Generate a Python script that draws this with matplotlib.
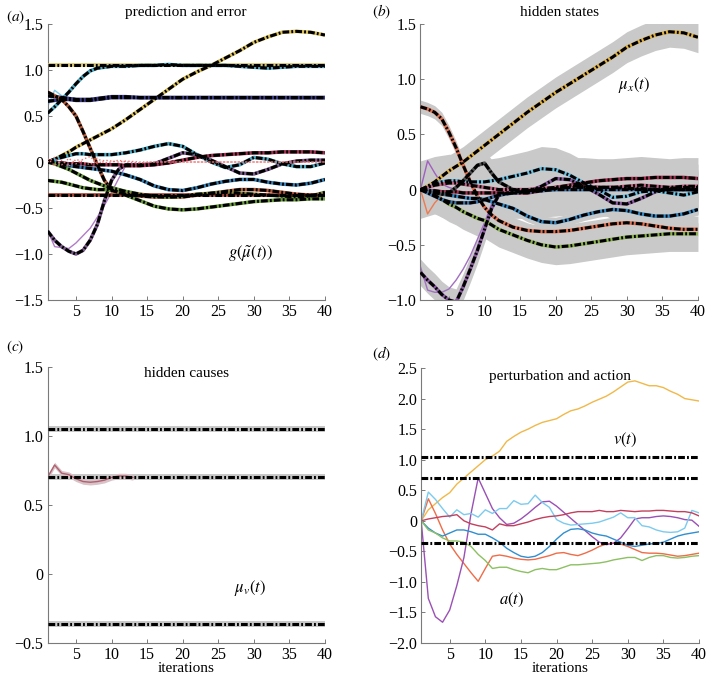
import numpy as np
import matplotlib
matplotlib.use('Agg')
import matplotlib.pyplot as plt
from matplotlib.ticker import FuncFormatter

plt.rcParams['font.family'] = ['Liberation Serif', 'DejaVu Serif']
plt.rcParams['mathtext.fontset'] = 'stix'
plt.rcParams['font.size'] = 9.5

# iteration grids
t_ab = [1, 2, 3, 4, 5, 6, 7, 8, 9, 10, 11, 12, 14, 16, 18, 20, 22, 24, 26, 28, 30, 32, 34, 36, 38, 40]
t_short = [1, 2, 3, 4, 5, 6]
t_d = list(range(1, 41))

# hidden causes (true values)
causes = [1.05, 0.70, -0.36]

# (a) prediction and error
a_rise = [0, 0.03, 0.07, 0.11, 0.16, 0.2, 0.24, 0.28, 0.32, 0.36, 0.41, 0.46, 0.57, 0.68, 0.79, 0.9, 0.98, 1.05, 1.13, 1.21, 1.3, 1.36, 1.41, 1.42, 1.41, 1.38]
a_teal_hi = [0.53, 0.6, 0.68, 0.76, 0.85, 0.93, 0.99, 1.02, 1.03, 1.04, 1.04, 1.04, 1.05, 1.05, 1.06, 1.05, 1.05, 1.05, 1.05, 1.04, 1.03, 1.02, 1.03, 1.04, 1.04, 1.04]
a_navy1 = [0.72, 0.71, 0.7, 0.69, 0.68, 0.68, 0.68, 0.69, 0.7, 0.71, 0.71, 0.71, 0.7, 0.7, 0.7, 0.7, 0.7, 0.7, 0.7, 0.7, 0.7, 0.7, 0.7, 0.7, 0.7, 0.7]
a_navy2 = [0.66, 0.67, 0.68, 0.68, 0.67, 0.67, 0.67, 0.68, 0.69, 0.7, 0.7, 0.7, 0.7, 0.7, 0.7, 0.7, 0.7, 0.7, 0.7, 0.7, 0.7, 0.7, 0.7, 0.7, 0.7, 0.7]
a_cyan_thin = [0.6, 0.78, 0.72, 0.7, 0.69, 0.68]
a_fall = [0.76, 0.72, 0.68, 0.6, 0.5, 0.33, 0.15, -0.03, -0.2, -0.3, -0.33, -0.35, -0.37, -0.38, -0.38, -0.38, -0.36, -0.34, -0.32, -0.3, -0.3, -0.31, -0.33, -0.35, -0.36, -0.36]
a_dip = [-0.75, -0.85, -0.92, -0.97, -1.0, -0.96, -0.85, -0.68, -0.42, -0.2, -0.08, -0.03, -0.03, -0.02, 0.04, 0.1, 0.08, 0.02, -0.05, -0.12, -0.13, -0.08, -0.02, 0.01, 0.02, 0.02]
a_purple_thin = [-0.74, -0.92, -0.93, -0.94, -0.88, -0.8, -0.72, -0.6, -0.47, -0.33, -0.18, -0.04, -0.03, -0.02, 0.04, 0.1, 0.08, 0.02, -0.05, -0.12, -0.13, -0.08, -0.02, 0.01, 0.02, 0.02]
a_teal = [0, 0.03, 0.05, 0.07, 0.09, 0.09, 0.08, 0.08, 0.08, 0.08, 0.09, 0.1, 0.13, 0.17, 0.2, 0.17, 0.08, 0.0, -0.06, -0.03, 0.05, 0.03, -0.02, -0.05, -0.05, -0.01]
a_dred = [0, -0.01, -0.01, -0.02, -0.02, -0.02, -0.03, -0.03, -0.03, -0.03, -0.03, -0.04, -0.04, -0.03, -0.01, 0.02, 0.05, 0.07, 0.08, 0.09, 0.1, 0.1, 0.11, 0.11, 0.11, 0.1]
a_blue = [0, -0.01, -0.02, -0.04, -0.05, -0.06, -0.07, -0.08, -0.09, -0.1, -0.12, -0.14, -0.19, -0.26, -0.3, -0.31, -0.28, -0.24, -0.21, -0.19, -0.19, -0.22, -0.24, -0.25, -0.23, -0.19]
a_green1 = [-0.2, -0.21, -0.22, -0.24, -0.26, -0.28, -0.29, -0.3, -0.3, -0.31, -0.33, -0.36, -0.42, -0.48, -0.51, -0.52, -0.51, -0.49, -0.47, -0.45, -0.43, -0.42, -0.41, -0.41, -0.4, -0.4]
a_green2 = [0, -0.02, -0.05, -0.08, -0.12, -0.16, -0.2, -0.23, -0.26, -0.28, -0.3, -0.32, -0.35, -0.37, -0.38, -0.37, -0.35, -0.34, -0.33, -0.34, -0.35, -0.36, -0.37, -0.38, -0.37, -0.33]
a_err1 = [0, 0.05, -0.03, 0.04, -0.02, 0.03, 0.06, -0.02, 0.02, 0.01, 0.0, 0.01, 0.0, 0.0, 0.0, 0.0, 0.0, 0.0, 0.0, 0.0, 0.0, 0.0, 0.0, 0.0, 0.0, 0.0]
a_err2 = [0.04, -0.04, 0.02, -0.05, 0.03, 0.0, -0.03, 0.04, -0.01, 0.0, 0.02, 0.0, -0.01, 0.0, 0.0, 0.0, 0.0, 0.0, 0.0, 0.0, 0.0, 0.0, 0.0, 0.0, 0.0, 0.0]

# (b) hidden states
b_rise = [0, 0.03, 0.07, 0.12, 0.17, 0.21, 0.25, 0.3, 0.35, 0.4, 0.45, 0.5, 0.6, 0.7, 0.79, 0.88, 0.96, 1.04, 1.12, 1.2, 1.29, 1.35, 1.4, 1.43, 1.42, 1.38]
b_fall = [0.75, 0.73, 0.7, 0.64, 0.52, 0.38, 0.22, 0.07, -0.06, -0.16, -0.23, -0.28, -0.34, -0.37, -0.38, -0.38, -0.37, -0.35, -0.33, -0.31, -0.3, -0.31, -0.33, -0.35, -0.36, -0.36]
b_dip = [-0.75, -0.82, -0.88, -0.95, -1.0, -1.02, -0.88, -0.72, -0.55, -0.36, -0.17, -0.05, -0.02, -0.02, 0.03, 0.1, 0.09, 0.03, -0.04, -0.12, -0.13, -0.08, -0.02, 0.01, 0.02, 0.02]
b_purple_thin = [-0.7, -0.91, -0.93, -0.93, -0.9, -0.82, -0.72, -0.6, -0.45, -0.3, -0.13, -0.04, -0.02, -0.02, 0.03, 0.1, 0.09, 0.03, -0.04, -0.12, -0.13, -0.08, -0.02, 0.01, 0.02, 0.02]
b_teal = [0, 0.02, 0.05, 0.07, 0.08, 0.08, 0.07, 0.07, 0.07, 0.07, 0.08, 0.09, 0.12, 0.15, 0.19, 0.18, 0.13, 0.06, 0.0, -0.07, -0.06, -0.02, -0.01, -0.03, -0.05, -0.02]
b_dred = [0, -0.01, -0.01, -0.02, -0.02, -0.02, -0.03, -0.03, -0.03, -0.03, -0.03, -0.03, -0.03, -0.03, -0.01, 0.02, 0.04, 0.06, 0.08, 0.09, 0.1, 0.1, 0.11, 0.11, 0.11, 0.1]
b_blue = [0, -0.01, -0.02, -0.04, -0.05, -0.06, -0.07, -0.08, -0.08, -0.09, -0.11, -0.13, -0.17, -0.24, -0.29, -0.3, -0.27, -0.23, -0.2, -0.18, -0.19, -0.22, -0.24, -0.24, -0.22, -0.18]
b_green = [0, -0.02, -0.05, -0.09, -0.13, -0.16, -0.2, -0.23, -0.26, -0.28, -0.32, -0.36, -0.41, -0.46, -0.5, -0.52, -0.51, -0.49, -0.47, -0.45, -0.43, -0.42, -0.41, -0.4, -0.4, -0.4]
b_peak = [0, -0.02, -0.03, -0.04, -0.03, 0.02, 0.08, 0.15, 0.22, 0.24, 0.15, 0.07, 0.0, -0.01, 0.0, 0.01, 0.02, 0.02, 0.02, 0.02, 0.01, 0.01, 0.0, 0.0, 0.0, 0.0]
b_zero1 = [0, 0.02, 0.04, 0.05, 0.06, 0.06, 0.05, 0.04, 0.03, 0.02, 0.01, 0.0, 0.0, 0.0, 0.01, 0.02, 0.03, 0.03, 0.02, 0.02, 0.03, 0.04, 0.03, 0.02, 0.03, 0.03]
b_zero2 = [0, -0.03, -0.06, -0.09, -0.11, -0.12, -0.12, -0.12, -0.11, -0.09, -0.07, -0.05, -0.03, -0.02, -0.01, 0.0, 0.0, 0.0, 0.0, 0.0, 0.0, 0.0, 0.0, 0.0, 0.0, 0.0]
b_orange_thin = [0, -0.22, -0.12, -0.05, -0.02, 0.0]
b_violet_thin = [0, 0.26, 0.15, 0.05, 0.02, 0.0]
# half-widths of the grey confidence bands, one per state
b_ci = {'rise': 0.14, 'fall': 0.06, 'dip': 0.12, 'teal': 0.2, 'dred': 0.13,
        'blue': 0.05, 'green': 0.16, 'peak': 0.12, 'zero1': 0.26, 'zero2': 0.16}

# (c) hidden causes
t_c = [1, 2, 3, 4, 5, 6, 7, 8, 9, 10, 11, 12, 13]
c_pink = [0.70, 0.79, 0.73, 0.72, 0.69, 0.67, 0.665, 0.67, 0.68, 0.70, 0.71, 0.71, 0.70]

# (d) perturbation and action
d_yellow = [0, 0.18, 0.28, 0.38, 0.46, 0.6, 0.7, 0.8, 0.9, 1.0, 1.06, 1.14, 1.3, 1.38, 1.45, 1.5, 1.56, 1.61, 1.64, 1.67, 1.74, 1.8, 1.83, 1.88, 1.94, 1.99, 2.04, 2.11, 2.19, 2.27, 2.29, 2.25, 2.21, 2.21, 2.18, 2.12, 2.07, 2.0, 1.98, 1.96]
d_orange = [0, 0.36, 0.12, -0.15, -0.38, -0.55, -0.7, -0.85, -0.99, -0.78, -0.58, -0.56, -0.58, -0.61, -0.63, -0.64, -0.63, -0.6, -0.57, -0.53, -0.52, -0.55, -0.57, -0.53, -0.48, -0.42, -0.38, -0.36, -0.38, -0.42, -0.47, -0.52, -0.53, -0.53, -0.54, -0.56, -0.58, -0.57, -0.55, -0.53]
d_purple = [0, -1.27, -1.57, -1.66, -1.46, -1.06, -0.6, 0.12, 0.7, 0.45, 0.2, 0.05, -0.06, -0.04, 0.03, 0.12, 0.22, 0.31, 0.32, 0.24, 0.14, 0.04, -0.06, -0.16, -0.26, -0.35, -0.39, -0.37, -0.28, -0.13, 0.03, 0.05, 0.05, 0.07, 0.08, 0.07, 0.05, 0.02, 0.01, -0.09]
d_cyan = [0, 0.47, 0.35, 0.2, 0.06, 0.18, 0.1, 0.12, 0.06, 0.18, 0.12, 0.2, 0.2, 0.33, 0.27, 0.28, 0.42, 0.3, 0.22, 0.02, -0.04, -0.07, -0.06, -0.05, -0.04, -0.02, 0.02, 0.06, 0.13, 0.05, 0.05, -0.08, -0.1, -0.15, -0.18, -0.19, -0.18, -0.12, 0.17, 0.13]
d_red = [0, 0.03, 0.05, 0.07, 0.08, 0.1, 0.0, -0.05, -0.08, -0.1, -0.15, -0.05, -0.08, -0.08, -0.05, -0.02, 0.02, 0.05, 0.07, 0.08, 0.1, 0.13, 0.15, 0.15, 0.15, 0.17, 0.15, 0.15, 0.17, 0.16, 0.15, 0.16, 0.16, 0.17, 0.17, 0.16, 0.15, 0.15, 0.13, 0.08]
d_blue = [0, -0.12, -0.2, -0.25, -0.2, -0.15, -0.15, -0.18, -0.22, -0.22, -0.28, -0.35, -0.45, -0.52, -0.58, -0.6, -0.58, -0.52, -0.42, -0.3, -0.2, -0.14, -0.13, -0.15, -0.2, -0.23, -0.25, -0.3, -0.35, -0.4, -0.42, -0.4, -0.38, -0.37, -0.35, -0.3, -0.25, -0.22, -0.2, -0.18]
d_green = [0, -0.15, -0.2, -0.28, -0.33, -0.33, -0.35, -0.42, -0.55, -0.65, -0.78, -0.76, -0.76, -0.8, -0.83, -0.85, -0.8, -0.78, -0.8, -0.8, -0.76, -0.72, -0.72, -0.71, -0.7, -0.69, -0.67, -0.64, -0.62, -0.6, -0.6, -0.65, -0.6, -0.57, -0.57, -0.6, -0.61, -0.6, -0.58, -0.57]

GREY = '#c9c9c9'
AX = '#7a7a7a'
DASH = (2.2, 0.7, 0.6, 0.7)


def dashdot(ax, x, y, under, lw=2.2):
    ax.plot(x, y, color=under, lw=2.6, zorder=3, solid_capstyle='butt')
    ln, = ax.plot(x, y, color='black', lw=lw, zorder=4)
    ln.set_dashes(DASH)
    return ln


def style(ax, ylim, yticks):
    ax.set_xlim(1, 40)
    ax.set_ylim(*ylim)
    ax.set_xticks([5, 10, 15, 20, 25, 30, 35, 40])
    ax.set_yticks(yticks)
    ax.yaxis.set_major_formatter(FuncFormatter(
        lambda v, p: '0' if abs(v) < 1e-9 else f'{v:.1f}'.replace('-', '\u2212')))
    for s in ['top', 'right']:
        ax.spines[s].set_visible(False)
    for s in ['left', 'bottom']:
        ax.spines[s].set_color(AX)
        ax.spines[s].set_linewidth(0.8)
    ax.tick_params(direction='in', length=3, width=0.7, color=AX, labelsize=11.5, pad=3)


fig = plt.figure(figsize=(7.06, 6.78), dpi=100)
ax_a = fig.add_axes([0.0673, 0.5575, 0.393, 0.4071])
ax_b = fig.add_axes([0.5956, 0.5575, 0.393, 0.4071])
ax_c = fig.add_axes([0.0673, 0.0516, 0.393, 0.4071])
ax_d = fig.add_axes([0.5966, 0.0516, 0.3935, 0.4056])

# ---- (a)
ax = ax_a
ax.plot([1, 40], [causes[0], causes[0]], color='#d9c36a', lw=2.6, zorder=3)
ln, = ax.plot([1, 40], [causes[0], causes[0]], color='black', lw=2.2, zorder=4)
ln.set_dashes(DASH)
ax.plot(t_short, a_cyan_thin, color='#7fc9e8', lw=1, zorder=2)
ax.plot(t_ab, a_purple_thin, color='#b07cc6', lw=1, zorder=2)
ax.plot(t_ab, a_err1, color='#f07070', lw=1, ls=':', zorder=5)
ax.plot(t_ab, a_err2, color='#f07070', lw=1, ls=':', zorder=5)
dashdot(ax, t_ab, a_rise, '#d8bf5a')
dashdot(ax, t_ab, a_teal_hi, '#4fa7c0')
dashdot(ax, t_ab, a_navy1, '#3a3a80')
dashdot(ax, t_ab, a_navy2, '#3a3a80')
dashdot(ax, t_ab, a_fall, '#b05a3a')
dashdot(ax, t_ab, a_dip, '#7a5a8a')
dashdot(ax, t_ab, a_teal, '#4fa7c0')
dashdot(ax, t_ab, a_dred, '#9a3050')
dashdot(ax, t_ab, a_blue, '#3a7fb0')
dashdot(ax, t_ab, a_green1, '#6a9a40')
dashdot(ax, t_ab, a_green2, '#6a9a40')
ax.plot([1, 40], [causes[2], causes[2]], color='#a04030', lw=2.6, zorder=3)
ln, = ax.plot([1, 40], [causes[2], causes[2]], color='black', lw=2.2, zorder=4)
ln.set_dashes(DASH)
style(ax, (-1.5, 1.5), [-1.5, -1.0, -0.5, 0, 0.5, 1.0, 1.5])
ax.text(29.5, -1.0, r'$g(\tilde{\mu}(t))$', fontsize=12, ha='center', va='center')
ax.set_title('prediction and error', fontsize=11, pad=6)
fig.text(0.008, 0.975, r'$(a)$', fontsize=11, ha='left', va='center')

# ---- (b)
ax = ax_b
b_states = {'rise': b_rise, 'fall': b_fall, 'dip': b_dip, 'teal': b_teal, 'dred': b_dred,
            'blue': b_blue, 'green': b_green, 'peak': b_peak, 'zero1': b_zero1, 'zero2': b_zero2}
for k, y in b_states.items():
    y = np.array(y)
    ax.fill_between(t_ab, y - b_ci[k], y + b_ci[k], color=GREY, lw=0, zorder=1)
ax.plot(t_short, b_orange_thin, color='#ee7a50', lw=1, zorder=2)
ax.plot(t_short, b_violet_thin, color='#a060c0', lw=1, zorder=2)
ax.plot(t_ab, b_purple_thin, color='#a070c0', lw=1, zorder=2)
dashdot(ax, t_ab, b_rise, '#e0b040')
dashdot(ax, t_ab, b_fall, '#e07050')
dashdot(ax, t_ab, b_dip, '#8a5aa0')
dashdot(ax, t_ab, b_teal, '#6ac0e0')
dashdot(ax, t_ab, b_dred, '#a03050')
dashdot(ax, t_ab, b_blue, '#3a88c0')
dashdot(ax, t_ab, b_green, '#8ab050')
dashdot(ax, t_ab, b_peak, '#505050')
dashdot(ax, t_ab, b_zero1, '#c06080')
dashdot(ax, t_ab, b_zero2, '#4070a0')
style(ax, (-1.0, 1.5), [-1.0, -0.5, 0, 0.5, 1.0, 1.5])
ax.text(31, 0.95, r'$\mu_x(t)$', fontsize=12, ha='center', va='center')
ax.set_title('hidden states', fontsize=11, pad=6)
fig.text(0.527, 0.982, r'$(b)$', fontsize=11, ha='left', va='center')

# ---- (c)
ax = ax_c
for v in causes:
    ax.axhspan(v - 0.022, v + 0.022, color=GREY, lw=0, zorder=1)
cp = np.array(c_pink)
ax.fill_between(t_c, cp - 0.02, cp + 0.02, color='#d7c3c8', lw=0, zorder=1)
ax.plot(t_c, c_pink, color='#b06070', lw=1, zorder=2)
for v in causes:
    ln, = ax.plot([1, 40], [v, v], color='black', lw=2.2, zorder=4)
    ln.set_dashes(DASH)
style(ax, (-0.5, 1.5), [-0.5, 0, 0.5, 1.0, 1.5])
ax.text(20.5, 1.45, 'hidden causes', fontsize=11, ha='center', va='center')
ax.text(29.5, -0.1, r'$\mu_v(t)$', fontsize=12, ha='center', va='center')
ax.set_xlabel('iterations', fontsize=11, labelpad=-1)
fig.text(0.008, 0.488, r'$(c)$', fontsize=11, ha='left', va='center')

# ---- (d)
ax = ax_d
ax.plot(t_d, d_yellow, color='#f0b848', lw=1)
ax.plot(t_d, d_orange, color='#ee6c48', lw=1)
ax.plot(t_d, d_purple, color='#9a50b4', lw=1)
ax.plot(t_d, d_cyan, color='#7ccbee', lw=1)
ax.plot(t_d, d_red, color='#c2405e', lw=1)
ax.plot(t_d, d_blue, color='#2f8fd0', lw=1)
ax.plot(t_d, d_green, color='#8cc062', lw=1)
for v in causes:
    ln, = ax.plot([1, 40], [v, v], color='black', lw=2.2, zorder=4)
    ln.set_dashes(DASH)
style(ax, (-2.0, 2.5), [-2.0, -1.5, -1.0, -0.5, 0, 0.5, 1.0, 1.5, 2.0, 2.5])
ax.text(20.5, 2.36, 'perturbation and action', fontsize=11, ha='center', va='center')
ax.text(29.6, 1.33, r'$v(t)$', fontsize=12, ha='center', va='center')
ax.text(13.7, -1.3, r'$a(t)$', fontsize=12, ha='center', va='center')
ax.set_xlabel('iterations', fontsize=11, labelpad=-1)
fig.text(0.527, 0.478, r'$(d)$', fontsize=11, ha='left', va='center')

fig.savefig('out.png', dpi=100)
